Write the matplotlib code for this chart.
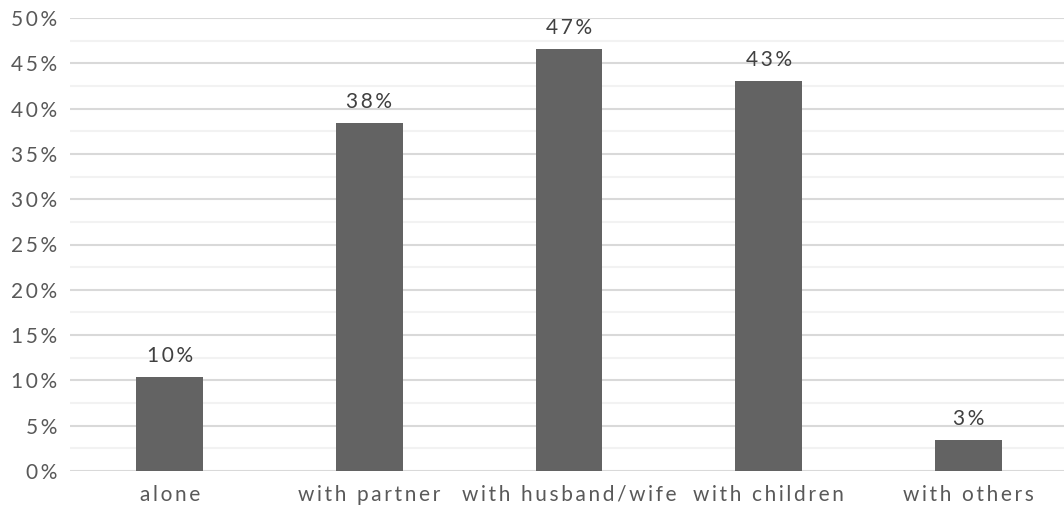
import matplotlib
matplotlib.use("Agg")
import matplotlib.pyplot as plt
from matplotlib.ticker import MultipleLocator

categories = ["alone", "with partner", "with husband/wife", "with children", "with others"]
shares = [10.4, 38.4, 46.6, 43.0, 3.4]
y_ticks = [0, 5, 10, 15, 20, 25, 30, 35, 40, 45, 50]

SP = "\u2009"  # thin space used for letter tracking


def tracked(s):
    return SP.join(s)


plt.rcParams["font.family"] = ["Lato", "DejaVu Sans"]

fig = plt.figure(figsize=(10.64, 5.09), dpi=100)
ax = fig.add_axes([70 / 1064, 1 - 471 / 509, 998 / 1064, 453 / 509])

x = list(range(len(categories)))
ax.bar(x, shares, width=0.335, color="#636363", zorder=3)

for xi, v in zip(x, shares):
    ax.annotate(tracked(f"{v:.0f}%"), (xi, v), xytext=(0, 8), textcoords="offset points",
                ha="center", va="bottom", fontsize=15, color="#404040")

ax.set_xlim(-0.5, len(categories) - 0.5)
ax.set_ylim(0, 50)
ax.set_yticks(y_ticks)
ax.set_yticklabels([tracked(f"{t}%") for t in y_ticks])
ax.yaxis.set_minor_locator(MultipleLocator(2.5))
ax.set_xticks(x)
ax.set_xticklabels([tracked(c) for c in categories])

ax.grid(axis="y", which="major", color="#d9d9d9", linewidth=1.5, zorder=0)
ax.grid(axis="y", which="minor", color="#f2f2f2", linewidth=1.5, zorder=0)
ax.tick_params(axis="both", which="both", length=0, labelsize=15, labelcolor="#595959")
ax.tick_params(axis="y", pad=9)
ax.tick_params(axis="x", pad=10)
for s in ax.spines.values():
    s.set_visible(False)

fig.savefig("out.png", dpi=100)
